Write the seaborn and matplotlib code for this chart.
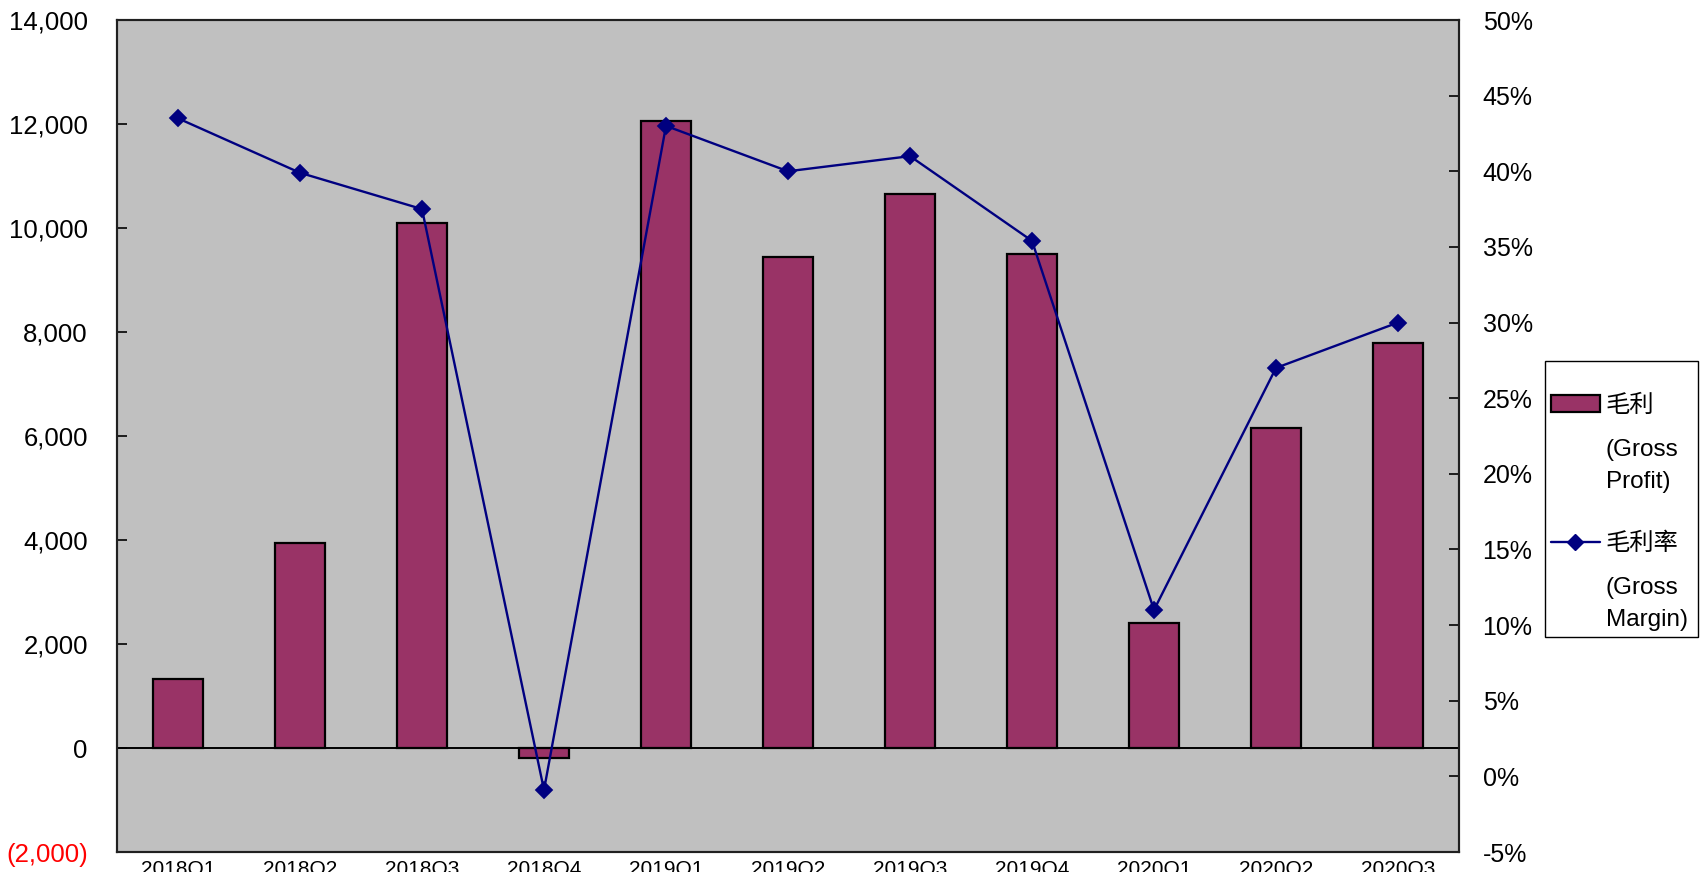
import numpy as np
import pandas as pd
import matplotlib
matplotlib.use("Agg")
import matplotlib.pyplot as plt
import seaborn as sns
from matplotlib.patches import Patch, Rectangle
from matplotlib.lines import Line2D

quarters = ["2018Q1", "2018Q2", "2018Q3", "2018Q4", "2019Q1", "2019Q2",
            "2019Q3", "2019Q4", "2020Q1", "2020Q2", "2020Q3"]
gross_profit = [1330, 3950, 10100, -200, 12050, 9450, 10650, 9500, 2400, 6150, 7780]
gross_margin = [43.5, 39.9, 37.5, -0.9, 43.0, 40.0, 41.0, 35.4, 11.0, 27.0, 30.0]

left_ticks = [-2000, 0, 2000, 4000, 6000, 8000, 10000, 12000, 14000]
left_labels = ["(2,000)", "0", "2,000", "4,000", "6,000", "8,000", "10,000", "12,000", "14,000"]
right_ticks = [-5, 0, 5, 10, 15, 20, 25, 30, 35, 40, 45, 50]
right_labels = ["-5%", "0%", "5%", "10%", "15%", "20%", "25%", "30%", "35%", "40%", "45%", "50%"]
profit_labels = ["毛利", "(Gross\nProfit)"]
margin_labels = ["毛利率", "(Gross\nMargin)"]

sns.set_theme(style="white")
plt.rcParams['font.family'] = ['Liberation Sans', 'Noto Sans CJK SC', 'DejaVu Sans']

BAR_COLOR = "#993366"
LINE_COLOR = "#000080"

W, H = 1700, 872
fig = plt.figure(figsize=(W / 100, H / 100), dpi=100)
fig.patch.set_facecolor("white")
ax = fig.add_axes([117 / W, 1 - 852 / H, (1459 - 117) / W, (852 - 20) / H])
ax.set_facecolor("#C0C0C0")

df = pd.DataFrame({"quarter": quarters, "profit": gross_profit, "margin": gross_margin})

sns.barplot(data=df, x="quarter", y="profit", ax=ax, color=BAR_COLOR,
            saturation=1, edgecolor="black", linewidth=1.6, width=0.41, zorder=2)
ax.axhline(0, color="black", lw=1.4, zorder=2.5)

ax2 = ax.twinx()
sns.pointplot(data=df, x="quarter", y="margin", ax=ax2, color=LINE_COLOR,
              markers="D", markersize=8.5, linewidth=1.7, errorbar=None)

ax.set_xlim(-0.5, len(quarters) - 0.5)
ax2.set_xlim(-0.5, len(quarters) - 0.5)
ax.set_ylim(-2000, 14000)
ax2.set_ylim(-5, 50)

ax.set_yticks(left_ticks, left_labels)
ax2.set_yticks(right_ticks, right_labels)

for a in (ax, ax2):
    a.set_xlabel("")
    a.set_ylabel("")
    for s in a.spines.values():
        s.set_color("#202020")
        s.set_linewidth(1.5)

ax.tick_params(axis="y", direction="in", length=7, width=1.2, color="black",
               pad=21, labelsize=18.5, labelcolor="black")
ax.get_yticklabels()[0].set_color("red")
ax2.tick_params(axis="y", direction="in", length=7, width=1.2, color="black",
                pad=17, labelsize=18, labelcolor="black")

ax.set_xticks(np.arange(len(quarters)), quarters)
ax.set_xticks(np.arange(len(quarters) + 1) - 0.5, minor=True)
ax.tick_params(axis="x", which="major", length=0, pad=6, labelsize=15, labelcolor="black")
ax.tick_params(axis="x", which="minor", direction="out", length=30, width=1.2, color="black")

# legend box
fig.add_artist(Rectangle((1545 / W, 1 - 637 / H), (1698 - 1545) / W, (637 - 361) / H,
                         transform=fig.transFigure, facecolor="white",
                         edgecolor="black", linewidth=1.0, zorder=5))

blank = Patch(facecolor="none", edgecolor="none")
bar_handle = Patch(facecolor=BAR_COLOR, edgecolor="black", linewidth=1.6)
line_handle = Line2D([], [], color=LINE_COLOR, marker="D", markersize=8.5, linewidth=1.7)


def add_legend(handles, labels, top_px):
    leg = fig.legend(handles, labels, loc="upper left",
                     bbox_to_anchor=(1551 / W, 1 - top_px / H), bbox_transform=fig.transFigure,
                     borderaxespad=0, borderpad=0, frameon=False, fontsize=17.5,
                     handlelength=2.0, handletextpad=0.25, labelspacing=0.9)
    leg.set_zorder(6)
    for t in leg.get_texts():
        t.set_linespacing(1.56)
        t.set_color("black")
    return leg


add_legend([bar_handle, blank], profit_labels, 395)
add_legend([line_handle, blank], margin_labels, 533)

fig.savefig("out.png", dpi=100)
